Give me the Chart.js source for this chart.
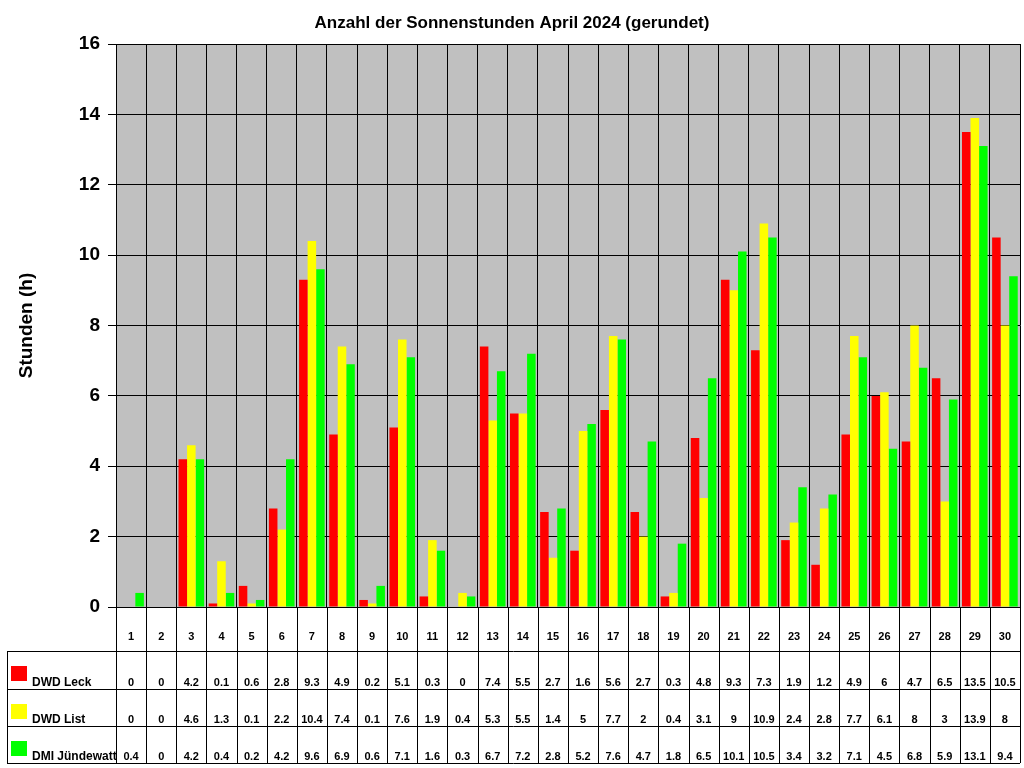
<!DOCTYPE html>
<html><head><meta charset="utf-8">
<script src="https://cdn.jsdelivr.net/npm/chart.js@4"></script>
<style>html,body{margin:0;padding:0;background:#fff}</style>
</head><body>
<canvas id="c" width="1024" height="768" style="width:1024px;height:768px"></canvas>
<script>
const days = Array.from({length:30},(_,i)=>String(i+1));
const seriesNames = ["DWD Leck","DWD List","DMI Jündewatt"];
const leck = [0,0,4.2,0.1,0.6,2.8,9.3,4.9,0.2,5.1,0.3,0,7.4,5.5,2.7,1.6,5.6,2.7,0.3,4.8,9.3,7.3,1.9,1.2,4.9,6,4.7,6.5,13.5,10.5];
const list = [0,0,4.6,1.3,0.1,2.2,10.4,7.4,0.1,7.6,1.9,0.4,5.3,5.5,1.4,5,7.7,2,0.4,3.1,9,10.9,2.4,2.8,7.7,6.1,8,3,13.9,8];
const jund = [0.4,0,4.2,0.4,0.2,4.2,9.6,6.9,0.6,7.1,1.6,0.3,6.7,7.2,2.8,5.2,7.6,4.7,1.8,6.5,10.1,10.5,3.4,3.2,7.1,4.5,6.8,5.9,13.1,9.4];
const colors = ["#ff0000","#ffff00","#00ff00"];
const allData = [leck,list,jund];
const FONT = "'Liberation Sans', Arial, sans-serif";

const tablePlugin = {
  id:'tbl',
  beforeDraw(chart){
    const {ctx, chartArea:a} = chart;
    ctx.save(); ctx.fillStyle='#c0c0c0';
    ctx.fillRect(a.left,a.top,a.right-a.left,a.bottom-a.top); ctx.restore();
  },
  afterDraw(chart){
    const {ctx, chartArea:a, scales:{x}} = chart;
    ctx.save();
    ctx.strokeStyle='#000'; ctx.lineWidth=1;
    const rows=[651,689,726,763];
    const n=days.length, w=(a.right-a.left)/n;
    ctx.beginPath();
    // header verticals
    for(let i=0;i<=n;i++){const xx=Math.round(a.left+i*w)+0.5; ctx.moveTo(xx,a.bottom); ctx.lineTo(xx,763);}
    ctx.moveTo(7.5,651); ctx.lineTo(7.5,763);
    rows.forEach(r=>{ctx.moveTo(7,r+0.5); ctx.lineTo(a.right,r+0.5);});
    ctx.stroke();
    ctx.fillStyle='#000'; ctx.textAlign='center'; ctx.textBaseline='alphabetic';
    ctx.font='bold 11px '+FONT;
    days.forEach((d,i)=>ctx.fillText(d,x.getPixelForValue(i),640));
    allData.forEach((arr,s)=>{
      const base=rows[s+1]-3;
      arr.forEach((v,i)=>ctx.fillText(String(v),x.getPixelForValue(i),base));
      ctx.fillStyle=colors[s]; ctx.fillRect(11,rows[s]+15,16,15);
      ctx.fillStyle='#000'; ctx.textAlign='left'; ctx.font='bold 12px '+FONT;
      ctx.fillText(seriesNames[s],32,base);
      ctx.textAlign='center'; ctx.font='bold 11px '+FONT;
    });
    // title
    ctx.font='bold 17px '+FONT; ctx.textAlign='center';
    ctx.fillText('Anzahl der Sonnenstunden April 2024 (gerundet)',512,28);
    // y title
    ctx.translate(32,(a.top+a.bottom)/2); ctx.rotate(-Math.PI/2);
    ctx.font='bold 19px '+FONT; ctx.fillText('Stunden (h)',0,0);
    ctx.restore();
  }
};

new Chart(document.getElementById('c'),{
  type:'bar',
  data:{labels:days,datasets:allData.map((d,i)=>({label:seriesNames[i],data:d,backgroundColor:colors[i],borderColor:'#000',borderWidth:0,categoryPercentage:0.85,barPercentage:1}))},
  options:{
    responsive:false,animation:false,
    layout:{padding:{top:44,bottom:161,left:0,right:4}},
    plugins:{legend:{display:false},title:{display:false},tooltip:{enabled:false}},
    scales:{
      x:{ticks:{display:false},grid:{color:'#000',offset:true,drawTicks:false},border:{color:'#000'},
        afterFit(s){s.height=0;}},
      y:{min:0,max:16,ticks:{stepSize:2,color:'#000',font:{family:FONT,size:19,weight:'bold'},padding:8},
        grid:{color:'#000',tickLength:8},border:{color:'#000'},
        afterFit(s){s.width=116;}}
    }
  },
  plugins:[tablePlugin]
});
</script>
</body></html>
